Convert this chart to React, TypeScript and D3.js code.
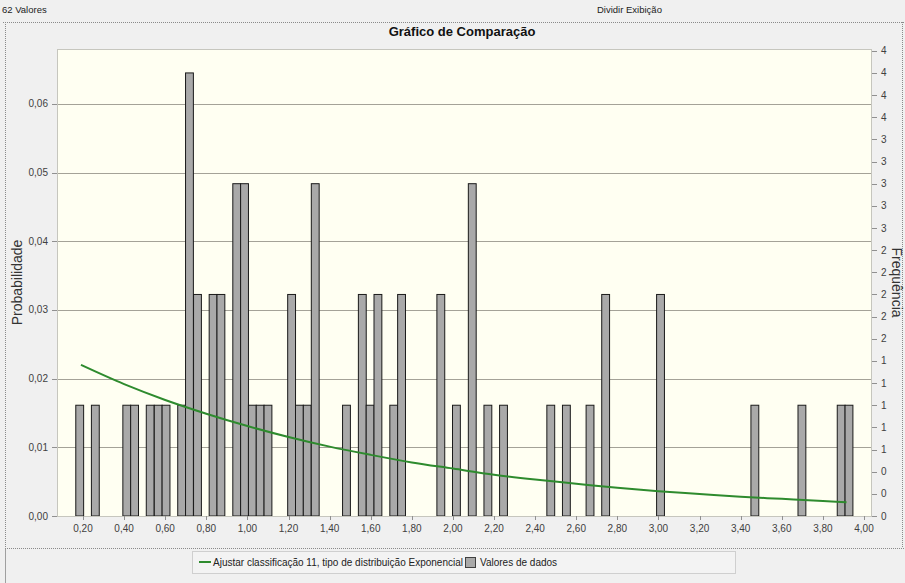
import React from 'react';
import * as d3 from 'd3';

// ---------- data ----------
const totalValues = 62;
const binWidth = 0.0382;
const binCenters = [
  0.184, 0.26, 0.413, 0.451, 0.527, 0.566, 0.604, 0.68, 0.718, 0.757,
  0.833, 0.871, 0.948, 0.986, 1.024, 1.062, 1.1, 1.215, 1.253, 1.291,
  1.33, 1.482, 1.559, 1.597, 1.635, 1.712, 1.75, 1.941, 2.017, 2.094,
  2.17, 2.246, 2.476, 2.552, 2.667, 2.743, 3.01, 3.469, 3.698, 3.889, 3.927,
];
const binCounts = [
  1, 1, 1, 1, 1, 1, 1, 1, 4, 2,
  2, 2, 3, 3, 1, 1, 1, 2, 1, 1,
  3, 1, 2, 1, 2, 1, 2, 2, 1, 3,
  1, 1, 1, 1, 1, 2, 2, 1, 1, 1, 1,
];
const curveX = [0.19, 0.4, 0.6, 0.8, 1.0, 1.2, 1.4, 1.6, 1.8, 2.0, 2.2, 2.4, 2.6, 2.8, 3.0, 3.2, 3.4, 3.6, 3.8, 3.915];
const curveY = [0.022, 0.0192, 0.0169, 0.0149, 0.0131, 0.0115, 0.0101, 0.0089, 0.0078, 0.0069, 0.006, 0.0053, 0.0047, 0.0041, 0.0036, 0.0032, 0.0028, 0.0025, 0.0022, 0.002];

const leftTicks = [0, 0.01, 0.02, 0.03, 0.04, 0.05, 0.06];
const leftTickLabels = ['0,00', '0,01', '0,02', '0,03', '0,04', '0,05', '0,06'];
const xTicks = [0.2, 0.4, 0.6, 0.8, 1.0, 1.2, 1.4, 1.6, 1.8, 2.0, 2.2, 2.4, 2.6, 2.8, 3.0, 3.2, 3.4, 3.6, 3.8, 4.0];
const xTickLabels = ['0,20', '0,40', '0,60', '0,80', '1,00', '1,20', '1,40', '1,60', '1,80', '2,00', '2,20', '2,40', '2,60', '2,80', '3,00', '3,20', '3,40', '3,60', '3,80', '4,00'];
const rightTicks = [0, 0.2, 0.4, 0.6, 0.8, 1.0, 1.2, 1.4, 1.6, 1.8, 2.0, 2.2, 2.4, 2.6, 2.8, 3.0, 3.2, 3.4, 3.6, 3.8, 4.0, 4.2];
const rightTickLabels = ['0', '0', '0', '1', '1', '1', '1', '1', '2', '2', '2', '2', '2', '3', '3', '3', '3', '3', '4', '4', '4', '4'];

const topLeftText = '62 Valores';
const topRightText = 'Dividir Exibição';
const titleText = 'Gráfico de Comparação';
const leftAxisTitle = 'Probabilidade';
const rightAxisTitle = 'Frequência';
const legendLine = 'Ajustar classificação 11, tipo de distribuição Exponencial';
const legendBars = 'Valores de dados';

// ---------- layout ----------
const W = 905;
const H = 583;
const plot = { left: 57, right: 872, top: 49, bottom: 516 };
const xDomain: [number, number] = [0.0735, 4.039];
const yMax = 0.068;
const font = "'Liberation Sans', Arial, sans-serif";

export default function App() {
  const x = d3.scaleLinear().domain(xDomain).range([plot.left, plot.right]);
  const y = d3.scaleLinear().domain([0, yMax]).range([plot.bottom, plot.top]);
  const yR = d3.scaleLinear().domain([0, yMax * totalValues]).range([plot.bottom, plot.top]);
  const line = d3
    .line<number>()
    .x((_, i) => x(curveX[i]))
    .y((d) => y(d))
    .curve(d3.curveMonotoneX);

  return (
    <svg
      width={W}
      height={H}
      style={{ position: 'absolute', left: 0, top: 0, background: '#f0f0f0', fontFamily: font }}
    >
      <rect x={0} y={0} width={W} height={H} fill="#f0f0f0" />
      {/* top strip */}
      <text x={2} y={13} fontSize={9.5} fill="#222">{topLeftText}</text>
      <text x={597} y={13} fontSize={9.5} fill="#222">{topRightText}</text>
      {/* dotted frame */}
      <g stroke="#8a8a8a" strokeWidth={1} strokeDasharray="1,1" fill="none">
        <line x1={3} y1={22.5} x2={905} y2={22.5} />
        <line x1={5.5} y1={22} x2={5.5} y2={548} />
        <line x1={5} y1={548.5} x2={905} y2={548.5} />
        <line x1={902.5} y1={22} x2={902.5} y2={548} />
      </g>
      <line x1={5.5} y1={549} x2={5.5} y2={583} stroke="#a0a0a0" />
      {/* title */}
      <text x={462} y={36} fontSize={13} fontWeight="bold" textAnchor="middle" fill="#111">{titleText}</text>

      {/* plot background */}
      <rect
        x={plot.left}
        y={plot.top}
        width={plot.right - plot.left}
        height={plot.bottom - plot.top}
        fill="#fffff2"
      />
      {/* gridlines */}
      {leftTicks.slice(1).map((t) => (
        <line key={'g' + t} x1={plot.left} x2={plot.right} y1={Math.round(y(t)) + 0.5} y2={Math.round(y(t)) + 0.5} stroke="#a4a298" strokeWidth={1} />
      ))}
      {/* bars */}
      {binCenters.map((c, i) => {
        const x0 = x(c - binWidth / 2);
        const x1 = x(c + binWidth / 2);
        const top = y(binCounts[i] / totalValues);
        return (
          <rect
            key={'b' + i}
            x={x0}
            y={top}
            width={x1 - x0}
            height={plot.bottom - top}
            fill="#a9a9a9"
            stroke="#1a1a1a"
            strokeWidth={1}
          />
        );
      })}
      {/* fitted curve */}
      <path d={line(curveY) || ''} fill="none" stroke="#2e8b2e" strokeWidth={2} />
      {/* plot border */}
      <rect
        x={plot.left + 0.5}
        y={plot.top + 0.5}
        width={plot.right - plot.left - 1}
        height={plot.bottom - plot.top}
        fill="none"
        stroke="#c6c6be"
      />
      {/* left axis */}
      {leftTicks.map((t, i) => (
        <g key={'l' + t}>
          <line x1={plot.left - 5} x2={plot.left} y1={Math.round(y(t)) + 0.5} y2={Math.round(y(t)) + 0.5} stroke="#909090" />
          <text x={48} y={y(t) + 3.5} fontSize={10} textAnchor="end" fill="#404040">{leftTickLabels[i]}</text>
        </g>
      ))}
      {/* right axis */}
      {rightTicks.map((t, i) => (
        <g key={'r' + i}>
          <line x1={plot.right} x2={plot.right + 5} y1={Math.round(yR(t)) + 0.5} y2={Math.round(yR(t)) + 0.5} stroke="#909090" />
          <text x={881} y={yR(t) + 3.5} fontSize={10} fill="#404040">{rightTickLabels[i]}</text>
        </g>
      ))}
      {/* bottom axis */}
      {xTicks.map((t, i) => (
        <g key={'x' + i}>
          <line x1={Math.round(x(t)) + 0.5} x2={Math.round(x(t)) + 0.5} y1={plot.bottom} y2={plot.bottom + 4} stroke="#909090" />
          <text x={x(t)} y={532} fontSize={10} textAnchor="middle" fill="#404040">{xTickLabels[i]}</text>
        </g>
      ))}
      {/* axis titles */}
      <text
        transform={`translate(22, ${(plot.top + plot.bottom) / 2}) rotate(-90)`}
        fontSize={14}
        textAnchor="middle"
        fill="#333"
      >
        {leftAxisTitle}
      </text>
      <text
        transform={`translate(891.5, ${(plot.top + plot.bottom) / 2}) rotate(90)`}
        fontSize={14}
        textAnchor="middle"
        fill="#333"
      >
        {rightAxisTitle}
      </text>

      {/* legend */}
      <rect x={192.5} y={551.5} width={543} height={22} fill="#f3f3f3" stroke="#cfcfcf" />
      <line x1={199} x2={211} y1={562} y2={562} stroke="#2e8b2e" strokeWidth={2} />
      <text x={213} y={565.5} fontSize={10} fill="#222">{legendLine}</text>
      <rect x={465.5} y={557.5} width={10} height={10} fill="#a9a9a9" stroke="#404040" />
      <text x={480} y={565.5} fontSize={10} fill="#222">{legendBars}</text>
    </svg>
  );
}
